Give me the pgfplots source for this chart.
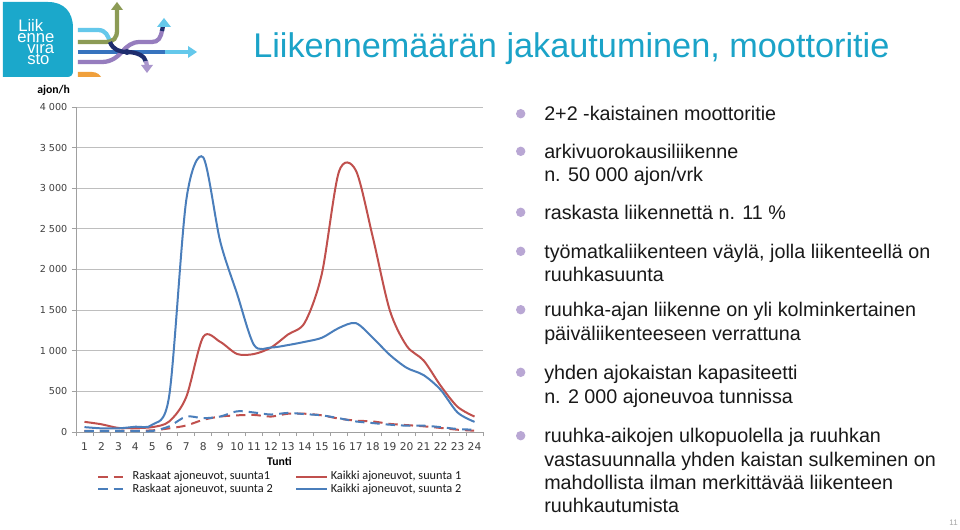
\documentclass[border=0pt]{standalone}
\usepackage{pgfplots}
\pgfplotsset{compat=1.18}
\usepackage{fontspec}
\setmainfont{Liberation Sans}
\newfontfamily\dejavu{DejaVu Sans}
\newfontfamily\carlito{Carlito}
\pgfdeclarelayer{bgwhite}
\pgfsetlayers{bgwhite,main}
\definecolor{redl}{RGB}{192,80,77}
\definecolor{bluel}{RGB}{74,126,187}
\definecolor{titlec}{RGB}{27,163,200}
\definecolor{logoc}{RGB}{27,168,203}
\definecolor{bulletc}{RGB}{185,167,212}
\definecolor{gridc}{RGB}{190,190,190}
\definecolor{axisc}{RGB}{160,160,160}
\definecolor{tickc}{RGB}{64,64,64}
\definecolor{txt}{RGB}{25,25,25}
\definecolor{cyanl}{RGB}{100,200,235}
\definecolor{olivec}{RGB}{140,155,85}
\definecolor{bluec}{RGB}{55,115,190}
\definecolor{navyc}{RGB}{30,45,110}
\definecolor{purp}{RGB}{150,125,190}
\definecolor{lav}{RGB}{170,150,205}
\definecolor{orangec}{RGB}{240,160,60}
\begin{document}
\begin{tikzpicture}
\begin{axis}[
  at={(0,0)}, anchor=south west,
  scale only axis, width=305.25pt, height=243.75pt,
  xmin=0.5, xmax=24.5, ymin=0, ymax=4000,
  axis x line*=bottom, axis y line*=left,
  axis line style={axisc, line width=0.6pt},
  xtick={1,...,24},
  xticklabels={1,2,3,4,5,6,7,8,9,10,11,12,13,14,15,16,17,18,19,20,21,22,23,24},
  major x tick style={draw=none},
  minor xtick={0.5,1.5,...,24.5},
  minor x tick style={axisc, line width=0.6pt},
  ytick={0,500,...,4000},
  yticklabels={0,500,1 000,1 500,2 000,2 500,3 000,3 500,4 000},
  ymajorgrids, major grid style={gridc, line width=0.6pt},
  tick align=outside, major tick length=3pt, minor tick length=3pt,
  y tick style={axisc, line width=0.6pt},
  yticklabel style={font=\dejavu\fontsize{7.2}{8}\selectfont, text=tickc},
  xticklabel style={font=\dejavu\fontsize{8}{9}\selectfont, text=tickc, yshift=-1.5pt},
  xlabel={Tunti},
  xlabel style={font=\carlito\bfseries\fontsize{8.8}{10}\selectfont, at={(axis description cs:0.5,-0.089)}, anchor=center},
  ylabel={ajon/h},
  ylabel style={rotate=-90, font=\carlito\bfseries\fontsize{8.8}{10}\selectfont, at={(axis description cs:-0.055,1.052)}, anchor=center},
  legend columns=2,
  legend cell align=left,
  legend style={draw=none, fill=none, at={(0.0516,-0.112)}, anchor=north west, inner sep=0pt,
    font=\carlito\fontsize{9.2}{10}\selectfont, text=txt, row sep=-2.5pt,
    /tikz/every even column/.append style={column sep=15pt}},
  legend image code/.code={\draw[#1] (0pt,0pt) -- (23pt,0pt);},
  every axis plot/.append style={line width=1.5pt, smooth},
]
\addplot[redl, dash pattern=on 7pt off 4.5pt] coordinates {
(1,15)(2,15)(3,15)(4,18)(5,20)(6,45)(7,80)(8,150)(9,190)(10,205)(11,210)(12,190)(13,225)(14,225)(15,205)(16,165)(17,140)(18,130)(19,100)(20,85)(21,70)(22,50)(23,28)(24,16)};
\addlegendentry{Raskaat ajoneuvot, suunta1}
\addplot[redl] coordinates {
(1,125)(2,95)(3,50)(4,50)(5,60)(6,130)(7,430)(8,1170)(9,1110)(10,960)(11,960)(12,1040)(13,1200)(14,1350)(15,1950)(16,3200)(17,3220)(18,2400)(19,1500)(20,1060)(21,880)(22,570)(23,310)(24,190)};
\addlegendentry{Kaikki ajoneuvot, suunta 1}
\addplot[bluel, dash pattern=on 7pt off 4.5pt] coordinates {
(1,12)(2,12)(3,12)(4,12)(5,12)(6,70)(7,190)(8,170)(9,190)(10,255)(11,240)(12,215)(13,235)(14,220)(15,205)(16,170)(17,130)(18,110)(19,90)(20,78)(21,78)(22,60)(23,37)(24,28)};
\addlegendentry{Raskaat ajoneuvot, suunta 2}
\addplot[bluel] coordinates {
(1,60)(2,45)(3,45)(4,65)(5,90)(6,450)(7,2850)(8,3380)(9,2350)(10,1700)(11,1070)(12,1040)(13,1070)(14,1110)(15,1160)(16,1280)(17,1340)(18,1160)(19,950)(20,790)(21,700)(22,520)(23,240)(24,125)};
\addlegendentry{Kaikki ajoneuvot, suunta 2}
\coordinate (O) at (rel axis cs:0,0);
\end{axis}
\begin{scope}[shift={(O)}]
\begin{scope}[x=0.75pt, y=-0.75pt, shift={(-76,-432)}]
\begin{pgfonlayer}{bgwhite}
\path[fill=white] (0,0) rectangle (960,529);
\end{pgfonlayer}
% logo
\fill[logoc] (3,2) -- (48,2) .. controls (64,2) and (73,12) .. (73,28) -- (73,71) .. controls (73,75) and (71,77) .. (67,77) -- (3,77) -- cycle;
\begin{scope}[every node/.style={text=white, font=\fontsize{12.5}{13}\selectfont, anchor=base west, inner sep=0pt}]
\node at (18,31.7) {Liik};
\node at (17,42.7) {enne};
\node at (27,53.6) {vira};
\node at (27,64.4) {sto};
\end{scope}
\begin{scope}[line width=3.2pt]
\draw[cyanl] (78,30) -- (98,30) .. controls (106,30) and (108,36) .. (110,42);
\draw[olivec] (78,42) -- (105,42) .. controls (114,42) and (117,38) .. (117,30) -- (117,9);
\fill[olivec] (111,10) -- (117,2) -- (123,10) -- cycle;
\draw[bluec] (78,52) -- (165,52);
\draw[cyanl] (165,52) -- (190,52);
\fill[cyanl] (188,46) -- (197,52) -- (188,58) -- cycle;
\draw[purp] (78,62) -- (102,62) .. controls (112,62) and (118,56) .. (122,52) .. controls (127,46) and (132,42) .. (140,42) -- (152,42) .. controls (158,42) and (161,38) .. (162,30);
\draw[navyc] (162,31) -- (163,26);
\fill[cyanl] (157,27) -- (164,18) -- (171,27) -- cycle;
\draw[navyc] (110,42) .. controls (113,50) and (120,52) .. (127,52) .. controls (137,52) and (145,56) .. (146,62);
\draw[lav] (146,61) -- (147,66);
\fill[lav] (141,65) -- (147,73) -- (153,65) -- cycle;
\fill[navyc] (127,52) circle (3);
\fill[orangec] (78,72) -- (92,72) .. controls (97,72) and (100,75) .. (101,77) -- (78,77) -- cycle;
\end{scope}
% title
\node[anchor=base west, text=titlec, font=\fontsize{25.7}{30}\selectfont, inner sep=0pt] at (253,57.7) {Liikennemäärän jakautuminen, moottoritie};
% bullets
\foreach \y in {120.7,158.3,219.3,258.3,316.7,379.3,442.7} {\fill[bulletc] (520.7,\y-7) circle (4.7);}
\begin{scope}[every node/.style={anchor=base west, text=txt, font=\fontsize{14.8}{17}\selectfont, inner sep=0pt}]
\node at (544,120.7) {2+2 -kaistainen moottoritie};
\node at (544,158.3) {arkivuorokausiliikenne};
\node at (544,181.7) {n. 50 000 ajon/vrk};
\node at (544,219.3) {raskasta liikennettä n. 11 \%};
\node at (544,258.3) {työmatkaliikenteen väylä, jolla liikenteellä on};
\node at (544,281) {ruuhkasuunta};
\node at (544,316.7) {ruuhka-ajan liikenne on yli kolminkertainen};
\node at (544,340) {päiväliikenteeseen verrattuna};
\node at (544,379.3) {yhden ajokaistan kapasiteetti};
\node at (544,403.3) {n. 2 000 ajoneuvoa tunnissa};
\node at (544,442.7) {ruuhka-aikojen ulkopuolella ja ruuhkan};
\node at (544,466) {vastasuunnalla yhden kaistan sulkeminen on};
\node at (544,489.3) {mahdollista ilman merkittävää liikenteen};
\node at (544,512.7) {ruuhkautumista};
\end{scope}
\node[anchor=base east, text=gray!70, font=\fontsize{6}{7}\selectfont, inner sep=0pt] at (958,525) {11};
\end{scope}
\end{scope}
\end{tikzpicture}
\end{document}
